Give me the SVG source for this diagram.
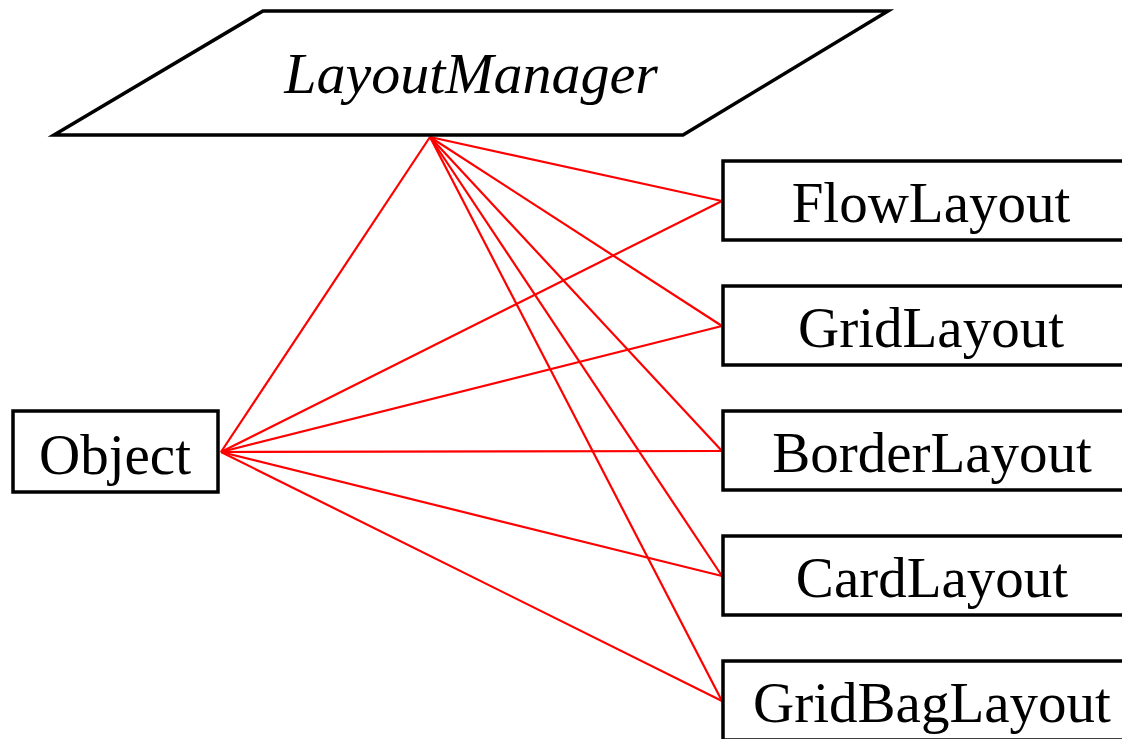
<svg xmlns="http://www.w3.org/2000/svg" width="1122" height="739" viewBox="0 0 1122 739">
  <style>
    .box { fill: #ffffff; stroke: #000000; stroke-width: 3.5; stroke-linejoin: miter; }
    .lbl { font-family: "Liberation Serif", "Times New Roman", serif; font-size: 57px; fill: #000000; text-anchor: middle; }
    .ital { font-style: italic; font-size: 58px; }
    .edge { stroke: #ff0000; stroke-width: 2.2; fill: none; }
  </style>
  <rect width="1122" height="739" fill="#ffffff"/>

  <!-- connectors -->
  <g id="connectors">
    <!-- from interface -->
    <line class="edge" x1="430" y1="137" x2="722" y2="201"/>
    <line class="edge" x1="430" y1="137" x2="722" y2="326"/>
    <line class="edge" x1="430" y1="137" x2="722" y2="451"/>
    <line class="edge" x1="430" y1="137" x2="722" y2="576"/>
    <line class="edge" x1="430" y1="137" x2="722" y2="701"/>
    <!-- from Object -->
    <line class="edge" x1="221" y1="452" x2="430" y2="137"/>
    <line class="edge" x1="221" y1="452" x2="722" y2="201"/>
    <line class="edge" x1="221" y1="452" x2="722" y2="326"/>
    <line class="edge" x1="221" y1="452" x2="722" y2="451"/>
    <line class="edge" x1="221" y1="452" x2="722" y2="576"/>
    <line class="edge" x1="221" y1="452" x2="722" y2="701"/>
  </g>

  <g id="layoutmanager">
    <polygon class="box" points="263,11 888,11 683,135 54,135"/>
    <text class="lbl ital" x="471" y="93">LayoutManager</text>
  </g>

  <g id="object">
    <rect class="box" x="13" y="411" width="205" height="81"/>
    <text class="lbl" x="115" y="474">Object</text>
  </g>

  <g id="flowlayout">
    <rect class="box" x="723" y="161" width="410" height="79"/>
    <text class="lbl" x="931" y="222">FlowLayout</text>
  </g>

  <g id="gridlayout">
    <rect class="box" x="723" y="286" width="410" height="79"/>
    <text class="lbl" x="931" y="347">GridLayout</text>
  </g>

  <g id="borderlayout">
    <rect class="box" x="723" y="411" width="410" height="79"/>
    <text class="lbl" x="932" y="472">BorderLayout</text>
  </g>

  <g id="cardlayout">
    <rect class="box" x="723" y="536" width="410" height="79"/>
    <text class="lbl" x="932" y="597">CardLayout</text>
  </g>

  <g id="gridbaglayout">
    <rect class="box" x="723" y="661" width="410" height="79"/>
    <text class="lbl" x="932" y="722">GridBagLayout</text>
  </g>
</svg>
